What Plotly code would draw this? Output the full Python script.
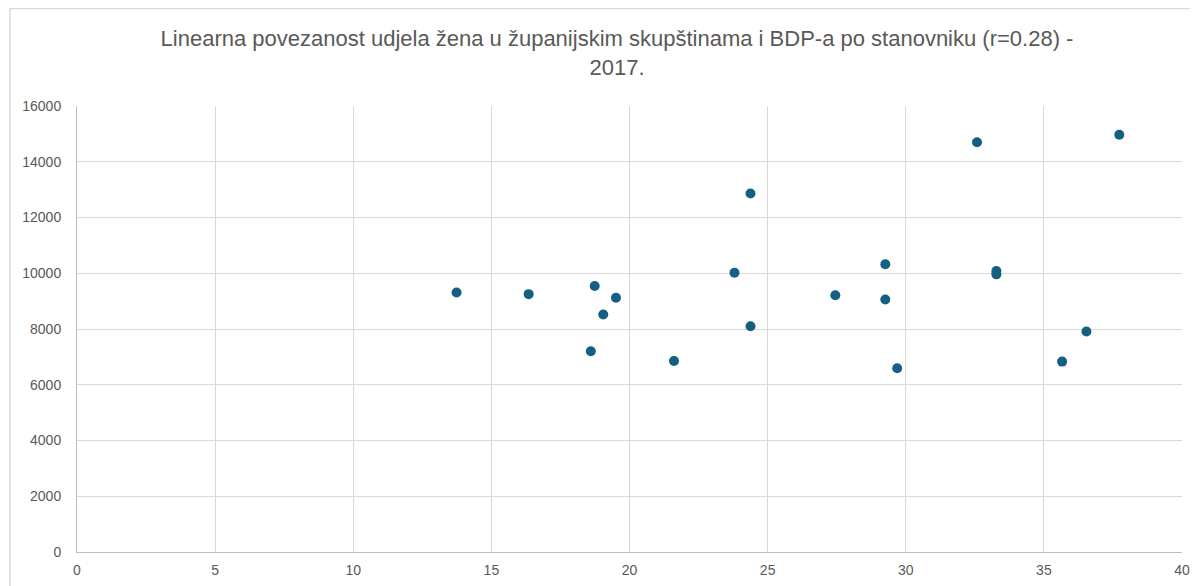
import plotly.graph_objects as go

# Share of women in county assemblies (%) and GDP per capita - 2017
udio_zena = [13.74, 16.35, 18.74, 19.51, 19.05, 18.60, 21.61, 23.80, 24.38, 24.38,
             27.45, 29.26, 29.26, 29.69, 33.28, 33.28, 32.58, 37.73, 36.54, 35.66]
bdp_po_stanovniku = [9310, 9250, 9540, 9120, 8520, 7200, 6850, 10020, 12860, 8100,
                     9210, 10320, 9060, 6590, 10080, 9960, 14700, 14970, 7910, 6830]

x_ticks = [0, 5, 10, 15, 20, 25, 30, 35, 40]
y_ticks = [0, 2000, 4000, 6000, 8000, 10000, 12000, 14000, 16000]
y_tick_labels = [str(v) for v in y_ticks]

title_text = ("Linearna povezanost udjela žena u županijskim skupštinama i BDP-a po stanovniku (r=0.28) -"
              "<br>2017.")

# page body has an 8px margin, so the figure is sized/offset to compensate
W, H = 1190, 578
L, R, T, B = 69, 16, 98, 34
plot_w = W - L - R
plot_h = H - T - B

fig = go.Figure()
fig.add_trace(go.Scatter(
    x=udio_zena, y=bdp_po_stanovniku, mode="markers",
    marker=dict(size=10, color="#156082"),
    showlegend=False,
))

grid = "#d9d9d9"
tickfont = dict(family="Liberation Sans, Arial, sans-serif", size=14, color="#595959")

fig.update_layout(
    width=W, height=H,
    margin=dict(l=L, r=R, t=T, b=B, autoexpand=False),
    paper_bgcolor="white", plot_bgcolor="white",
    title=dict(text=title_text, x=(617 - 8) / W, xref="container", xanchor="center",
               y=1 - 38 / H, yref="container", yanchor="top",
               font=dict(family="Liberation Sans, Arial, sans-serif", size=22, color="#595959")),
    xaxis=dict(range=[0, 40], tickvals=x_ticks, showgrid=True, gridcolor=grid, gridwidth=1,
               zeroline=False, showline=True, linecolor="#bfbfbf", linewidth=1,
               tickfont=tickfont, ticks="", ticklabelstandoff=5, fixedrange=True,
               automargin=False),
    yaxis=dict(range=[0, 16000], tickvals=y_ticks, ticktext=y_tick_labels,
               showgrid=True, gridcolor=grid, gridwidth=1,
               zeroline=False, showline=True, linecolor="#bfbfbf", linewidth=1,
               tickfont=tickfont, ticks="", ticklabelstandoff=12, fixedrange=True,
               automargin=False),
    shapes=[dict(type="rect", xref="paper", yref="paper",
                 x0=(2 - L) / plot_w, x1=1.2, y0=-0.3, y1=(plot_h + T - 0.5) / plot_h,
                 line=dict(color="#d9d9d9", width=1.5), layer="below")],
)

fig.write_html("out.html")
